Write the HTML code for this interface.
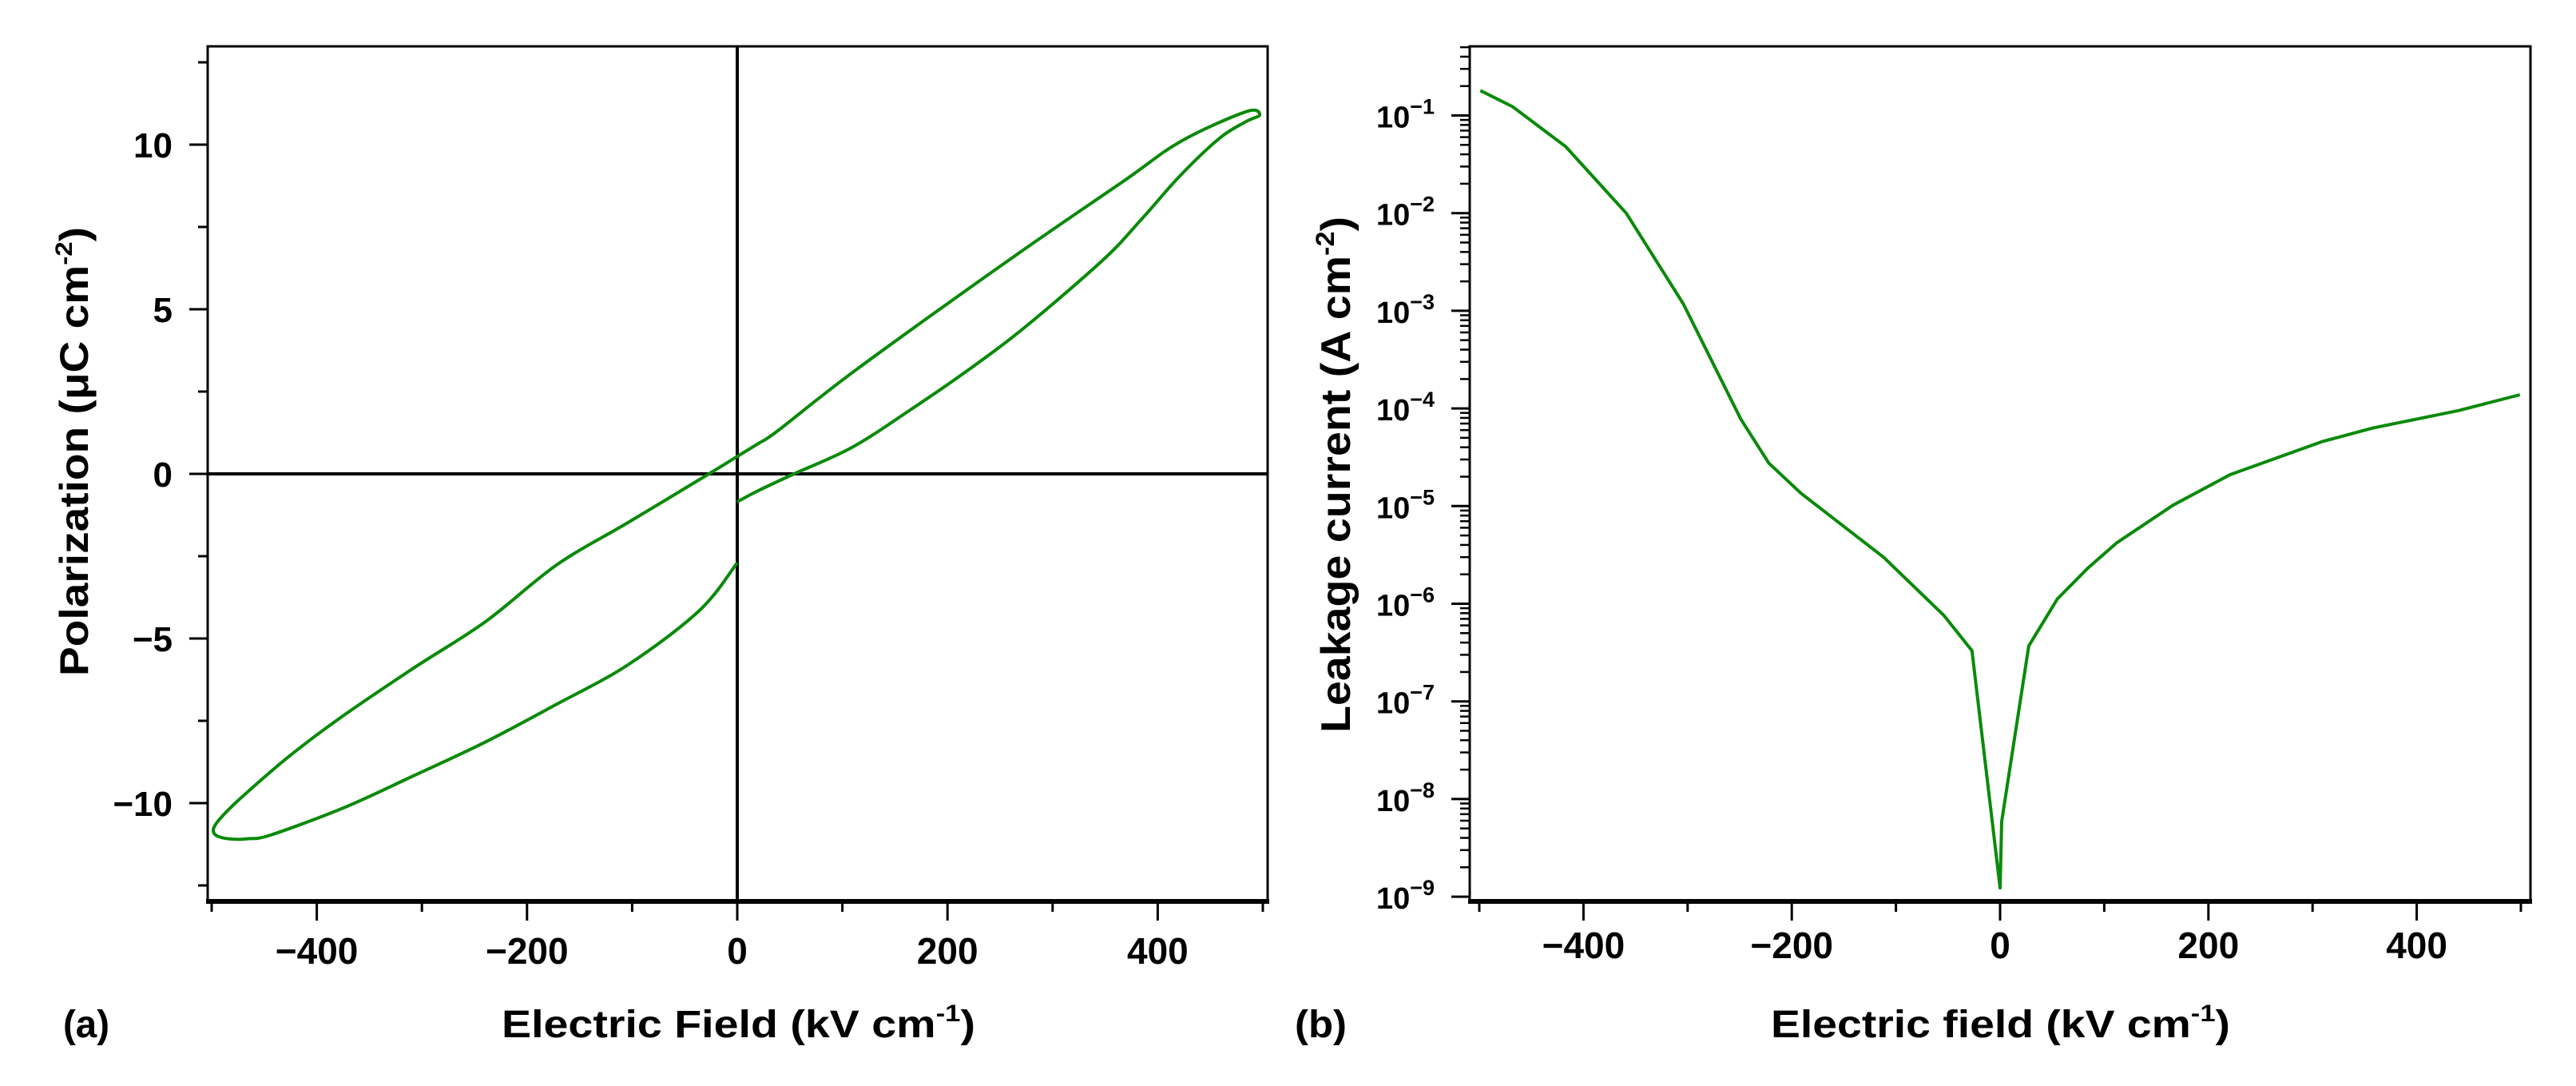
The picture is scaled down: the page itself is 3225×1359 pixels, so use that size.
<!DOCTYPE html>
<html><head><meta charset="utf-8"><style>
html,body{margin:0;padding:0;background:#fff;}
svg{display:block;}
text{font-family:"Liberation Sans",Arial,sans-serif;font-weight:bold;fill:#000;}
</style></head><body>
<svg id="fig" xmlns="http://www.w3.org/2000/svg" width="3225" height="1359" viewBox="0 0 3225 1359">
<rect width="3225" height="1359" fill="#fff"/>
<g id="pa"></g>
<g id="pb"></g>
<text x="79" y="1298" font-size="48" textLength="58" lengthAdjust="spacingAndGlyphs">(a)</text>
<text x="1621" y="1298" font-size="48" textLength="65" lengthAdjust="spacingAndGlyphs">(b)</text>
<text x="628" y="1298" font-size="48" textLength="593" lengthAdjust="spacingAndGlyphs">Electric Field (kV cm<tspan font-size="30" dy="-20">-1</tspan><tspan dy="20">)</tspan></text>
<text x="2217" y="1298" font-size="48" textLength="575" lengthAdjust="spacingAndGlyphs">Electric field (kV cm<tspan font-size="30" dy="-20">-1</tspan><tspan dy="20">)</tspan></text>
<text transform="translate(110,565) rotate(-90)" text-anchor="middle" font-size="50" textLength="562" lengthAdjust="spacingAndGlyphs">Polarization (μC cm<tspan font-size="30" dy="-20">-2</tspan><tspan dy="20">)</tspan></text>
<text transform="translate(1690,594) rotate(-90)" text-anchor="middle" font-size="52" textLength="646" lengthAdjust="spacingAndGlyphs">Leakage current (A cm<tspan font-size="32" dy="-20">-2</tspan><tspan dy="20">)</tspan></text>
</svg>
<script>
// Panel (a) data: P-E loop (kV/cm, uC/cm2), ordered along the trace
const loopE = [0,-36,-104,-172,-240,-308,-375,-444,-465,-477,-490,-497,-498,-490,-470,-426,-375,-308,-240,-172,-104,-27,0,20,39,113,260,367,422,484,497,484,459,422,385,349,275,220,164,109,54,20,0];
const loopP = [-2.7,-4.15,-5.8,-7.0,-8.15,-9.17,-10.15,-10.97,-11.08,-11.1,-11.05,-10.95,-10.75,-10.4,-9.78,-8.57,-7.35,-5.9,-4.5,-2.77,-1.48,0,0.53,0.92,1.32,3.16,6.53,8.88,10.1,11.0,10.9,10.7,10.2,9.08,7.75,6.53,4.49,3.16,1.93,0.8,0,-0.51,-0.85];
const aXTicks = [-400,-200,0,200,400];
const aXMinor = [-500,-300,-100,100,300,500];
const aYTicks = [-10,-5,0,5,10];
const aYMinor = [-12.5,-7.5,-2.5,2.5,7.5,12.5];
// Panel (b) data: leakage current vs field
const leakE = [-499,-468,-417,-359,-304,-249,-222,-191,-112,-54,-27,0,1.5,27.5,55,84,112,166,221,310,358,440,499];
const leakJ = [1.8e-1,1.23e-1,4.8e-2,1.0e-2,1.17e-3,7.8e-5,2.75e-5,1.35e-5,3.0e-6,7.6e-7,3.3e-7,1.23e-9,5.9e-9,3.7e-7,1.12e-6,2.3e-6,4.2e-6,1.02e-5,2.1e-5,4.6e-5,6.3e-5,9.5e-5,1.38e-4];
const bXTicks = [-400,-200,0,200,400];
const bXMinor = [-500,-300,-100,100,300,500];
const bYExp = [-1,-2,-3,-4,-5,-6,-7,-8,-9];

const NS="http://www.w3.org/2000/svg";
function mk(parent,tag,attrs){const e=document.createElementNS(NS,tag);for(const k in attrs)e.setAttribute(k,attrs[k]);parent.appendChild(e);return e;}
function smoothPath(pts){
  let d='M'+pts[0][0].toFixed(1)+','+pts[0][1].toFixed(1);
  for(let i=0;i<pts.length-1;i++){
    const p0=pts[Math.max(i-1,0)],p1=pts[i],p2=pts[i+1],p3=pts[Math.min(i+2,pts.length-1)];
    const c1x=p1[0]+(p2[0]-p0[0])/6,c1y=p1[1]+(p2[1]-p0[1])/6;
    const c2x=p2[0]-(p3[0]-p1[0])/6,c2y=p2[1]-(p3[1]-p1[1])/6;
    d+=' C'+c1x.toFixed(1)+','+c1y.toFixed(1)+' '+c2x.toFixed(1)+','+c2y.toFixed(1)+' '+p2[0].toFixed(1)+','+p2[1].toFixed(1);
  }
  return d;
}

// ---- Panel a ----
const pa=document.getElementById('pa');
const ax=e=>923+e*1.316;
const ay=p=>593-p*41.2;
const aL=260,aR=1587,aT=58,aB=1128;
let el;
el=mk(pa,'line',{x1:ax(0),y1:aT,x2:ax(0),y2:aB,stroke:'#000','stroke-width':4});


el=mk(pa,'line',{x1:aL,y1:ay(0),x2:aR,y2:ay(0),stroke:'#000','stroke-width':4});


el=mk(pa,'path',{d:`M${aL},${aB}V${aT}H${aR}V${aB}`,fill:'none',stroke:'#000','stroke-width':3});


el=mk(pa,'line',{x1:aL-2,y1:aB,x2:aR+2,y2:aB,stroke:'#000','stroke-width':6});


aXTicks.forEach(v=>{
  el=mk(pa,'line',{x1:ax(v),y1:aB,x2:ax(v),y2:aB+24,stroke:'#000','stroke-width':3});
  
  
  el=mk(pa,'text',{x:ax(v),y:1206,'text-anchor':'middle','font-size':46});
  el.textContent=v<0?'\u2212'+(-v):String(v);
  
  
});
aXMinor.forEach(v=>{
  el=mk(pa,'line',{x1:ax(v),y1:aB,x2:ax(v),y2:aB+13,stroke:'#000','stroke-width':3});
  
  
});
aYTicks.forEach(v=>{
  el=mk(pa,'line',{x1:aL-23,y1:ay(v),x2:aL,y2:ay(v),stroke:'#000','stroke-width':3});
  
  
  el=mk(pa,'text',{x:216,y:ay(v)+16,'text-anchor':'end','font-size':44});
  el.textContent=v<0?'\u2212'+(-v):String(v);
  
  
});
aYMinor.forEach(v=>{
  el=mk(pa,'line',{x1:aL-12,y1:ay(v),x2:aL,y2:ay(v),stroke:'#000','stroke-width':3});
  
  
});
el=mk(pa,'path',{d:smoothPath(loopE.map((e,i)=>[ax(e),ay(loopP[i])])),fill:'none',stroke:'#0a8a0a','stroke-width':4,'stroke-linejoin':'round'});



// ---- Panel b ----
const pb=document.getElementById('pb');
const bx=e=>2504+e*1.304;
const by=j=>144.5-(Math.log10(j)+1)*122.2;
const bL=1840,bR=3168,bT=58,bB=1128;
el=mk(pb,'path',{d:`M${bL},${bB}V${bT}H${bR}V${bB}`,fill:'none',stroke:'#000','stroke-width':3});


el=mk(pb,'line',{x1:bL-2,y1:bB,x2:bR+2,y2:bB,stroke:'#000','stroke-width':6});


bXTicks.forEach(v=>{
  el=mk(pb,'line',{x1:bx(v),y1:bB,x2:bx(v),y2:bB+24,stroke:'#000','stroke-width':3});
  
  
  el=mk(pb,'text',{x:bx(v),y:1199,'text-anchor':'middle','font-size':46});
  el.textContent=v<0?'\u2212'+(-v):String(v);
  
  
});
bXMinor.forEach(v=>{
  el=mk(pb,'line',{x1:bx(v),y1:bB,x2:bx(v),y2:bB+13,stroke:'#000','stroke-width':3});
  
  
});
bYExp.forEach(n=>{
  const y=by(Math.pow(10,n));
  el=mk(pb,'line',{x1:bL-23,y1:y,x2:bL,y2:y,stroke:'#000','stroke-width':3});
  
  
  el=mk(pb,'text',{x:1723,y:y+15,'font-size':38});
  
  
  el.appendChild(document.createTextNode('10'));
  const s=mk(el,'tspan',{'font-size':27,dy:-17});
  s.textContent='\u2212'+(-n);
});
for(let n=-9;n<=-1;n++){
  for(let k=2;k<=9;k++){
    const y=by(k*Math.pow(10,n));
    if(y<bT)continue;
    el=mk(pb,'line',{x1:bL-12,y1:y,x2:bL,y2:y,stroke:'#000','stroke-width':2.5});
    
    
  }
}
el=mk(pb,'polyline',{points:leakE.map((e,i)=>bx(e).toFixed(1)+','+by(leakJ[i]).toFixed(1)).join(' '),fill:'none',stroke:'#0a8a0a','stroke-width':4,'stroke-linejoin':'round'});


</script>
</body></html>
